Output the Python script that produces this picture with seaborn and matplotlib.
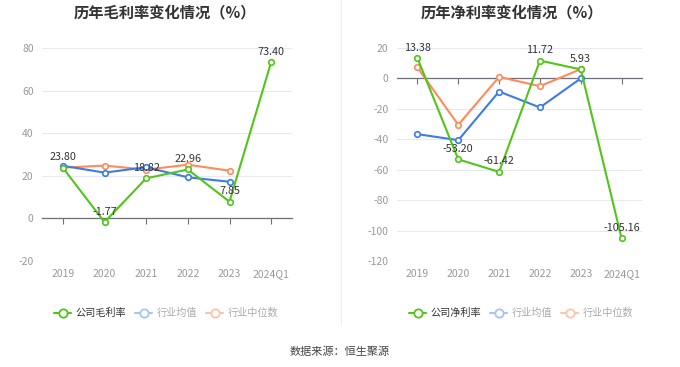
import numpy as np
import pandas as pd
import matplotlib
matplotlib.use("Agg")
import matplotlib.pyplot as plt
import seaborn as sns
from matplotlib.lines import Line2D

# ── Data ────────────────────────────────────────────────────────────────────
years = ["2019", "2020", "2021", "2022", "2023", "2024Q1"]

gross_company = [23.80, -1.77, 18.82, 22.96, 7.85, 73.40]
gross_ind_avg = [24.7, 21.5, 24.0, 19.3, 17.2, np.nan]
gross_ind_med = [23.8, 24.8, 22.9, 25.2, 22.4, np.nan]

net_company = [13.38, -53.20, -61.42, 11.72, 5.93, -105.16]
net_ind_avg = [-36.6, -40.6, -8.6, -19.1, 0.0, np.nan]
net_ind_med = [7.2, -30.5, 1.0, -5.1, 6.1, np.nan]

gross_ticks = [-20, 0, 20, 40, 60, 80]
net_ticks = [-120, -100, -80, -60, -40, -20, 0, 20]

GREEN = "#52c41a"
BLUE = "#3d7be8"
ORANGE = "#ff8a5b"

sns.set_style("white")
plt.rcParams["font.family"] = ["Noto Sans CJK SC", "DejaVu Sans"]

fig = plt.figure(figsize=(6.8, 3.67), dpi=100)


def draw_panel(ax, company, ind_avg, ind_med, ticks):
    pos = np.arange(len(years))
    df = pd.DataFrame({"pos": pos, "company": company,
                       "avg": ind_avg, "med": ind_med})
    style = dict(marker="o", markersize=4, markerfacecolor="white",
                 markeredgewidth=1.2, linewidth=1.5)
    sns.lineplot(data=df, x="pos", y="med", color=ORANGE,
                 markeredgecolor=ORANGE, ax=ax, zorder=3, **style)
    sns.lineplot(data=df, x="pos", y="avg", color=BLUE,
                 markeredgecolor=BLUE, ax=ax, zorder=3, **style)
    sns.lineplot(data=df, x="pos", y="company", color=GREEN,
                 markeredgecolor=GREEN, ax=ax, zorder=4, **style)

    for x, v in zip(pos, company):
        ax.annotate(f"{v:.2f}", (x, v), textcoords="offset points",
                    xytext=(0, 4), ha="center", va="bottom",
                    fontsize=7.8, color="#333333", zorder=5)

    ax.set_xlim(-0.5, len(years) - 0.5)
    ax.set_ylim(ticks[0], ticks[-1])
    ax.set_yticks(ticks)
    ax.set_yticklabels([str(t) for t in ticks])
    ax.set_xlabel("")
    ax.set_ylabel("")
    ax.tick_params(axis="y", length=0, labelsize=7.5, colors="#999999", pad=6)
    for s in ("top", "left", "right"):
        ax.spines[s].set_visible(False)
    ax.grid(axis="y", color="#e6e9f5", linewidth=0.8)
    ax.set_axisbelow(True)

    # zero axis line carrying the category ticks
    ax.spines["bottom"].set_position(("data", 0))
    ax.spines["bottom"].set_color("#6e7079")
    ax.spines["bottom"].set_linewidth(0.9)
    ax.spines["bottom"].set_zorder(2)
    ax.set_xticks(pos)
    ax.tick_params(axis="x", bottom=True, length=4, width=0.8,
                   color="#6e7079", direction="out", labelbottom=False)

    # category labels at the bottom edge
    sec = ax.secondary_xaxis("bottom")
    sec.set_xticks(pos)
    sec.set_xticklabels(years)
    sec.tick_params(length=0, labelsize=7.5, colors="#999999", pad=6)
    sec.spines["bottom"].set_visible(False)


ax1 = fig.add_axes([42 / 680, 1 - 261 / 367, 250 / 680, 213 / 367])
ax2 = fig.add_axes([397 / 680, 1 - 261 / 367, 245 / 680, 213 / 367])

draw_panel(ax1, gross_company, gross_ind_avg, gross_ind_med, gross_ticks)
draw_panel(ax2, net_company, net_ind_avg, net_ind_med, net_ticks)

fig.text(165 / 680, 1 - 12 / 367, "历年毛利率变化情况（%）", ha="center",
         va="center", fontsize=11, fontweight="bold", color="#333333")
fig.text(512 / 680, 1 - 12 / 367, "历年净利率变化情况（%）", ha="center",
         va="center", fontsize=11, fontweight="bold", color="#333333")

# divider
fig.add_artist(Line2D([341 / 680, 341 / 680], [1.0, 1 - 325 / 367],
                      color="#eeeeee", linewidth=0.8))


def legend_at(cx, comp_label):
    handles = [
        Line2D([], [], color=GREEN, marker="o", markersize=6,
               markerfacecolor="white", markeredgewidth=1.3, linewidth=1.5),
        Line2D([], [], color="#a9c3f5", marker="o", markersize=6,
               markerfacecolor="white", markeredgewidth=1.3, linewidth=1.5),
        Line2D([], [], color="#ffc3aa", marker="o", markersize=6,
               markerfacecolor="white", markeredgewidth=1.3, linewidth=1.5),
    ]
    leg = fig.legend(handles, [comp_label, "行业均值", "行业中位数"],
                     loc="center", bbox_to_anchor=(cx, 1 - 313 / 367),
                     ncol=3, frameon=False, fontsize=7.3, handlelength=1.7,
                     handletextpad=0.4, columnspacing=0.9)
    cols = ["#333333", "#aaaaaa", "#aaaaaa"]
    for t, c in zip(leg.get_texts(), cols):
        t.set_color(c)


legend_at(166 / 680, "公司毛利率")
legend_at(521 / 680, "公司净利率")

fig.text(0.5, 1 - 352 / 367, "数据来源：恒生聚源", ha="center", va="center",
         fontsize=8, color="#444444")

fig.savefig("out.png", dpi=100)
